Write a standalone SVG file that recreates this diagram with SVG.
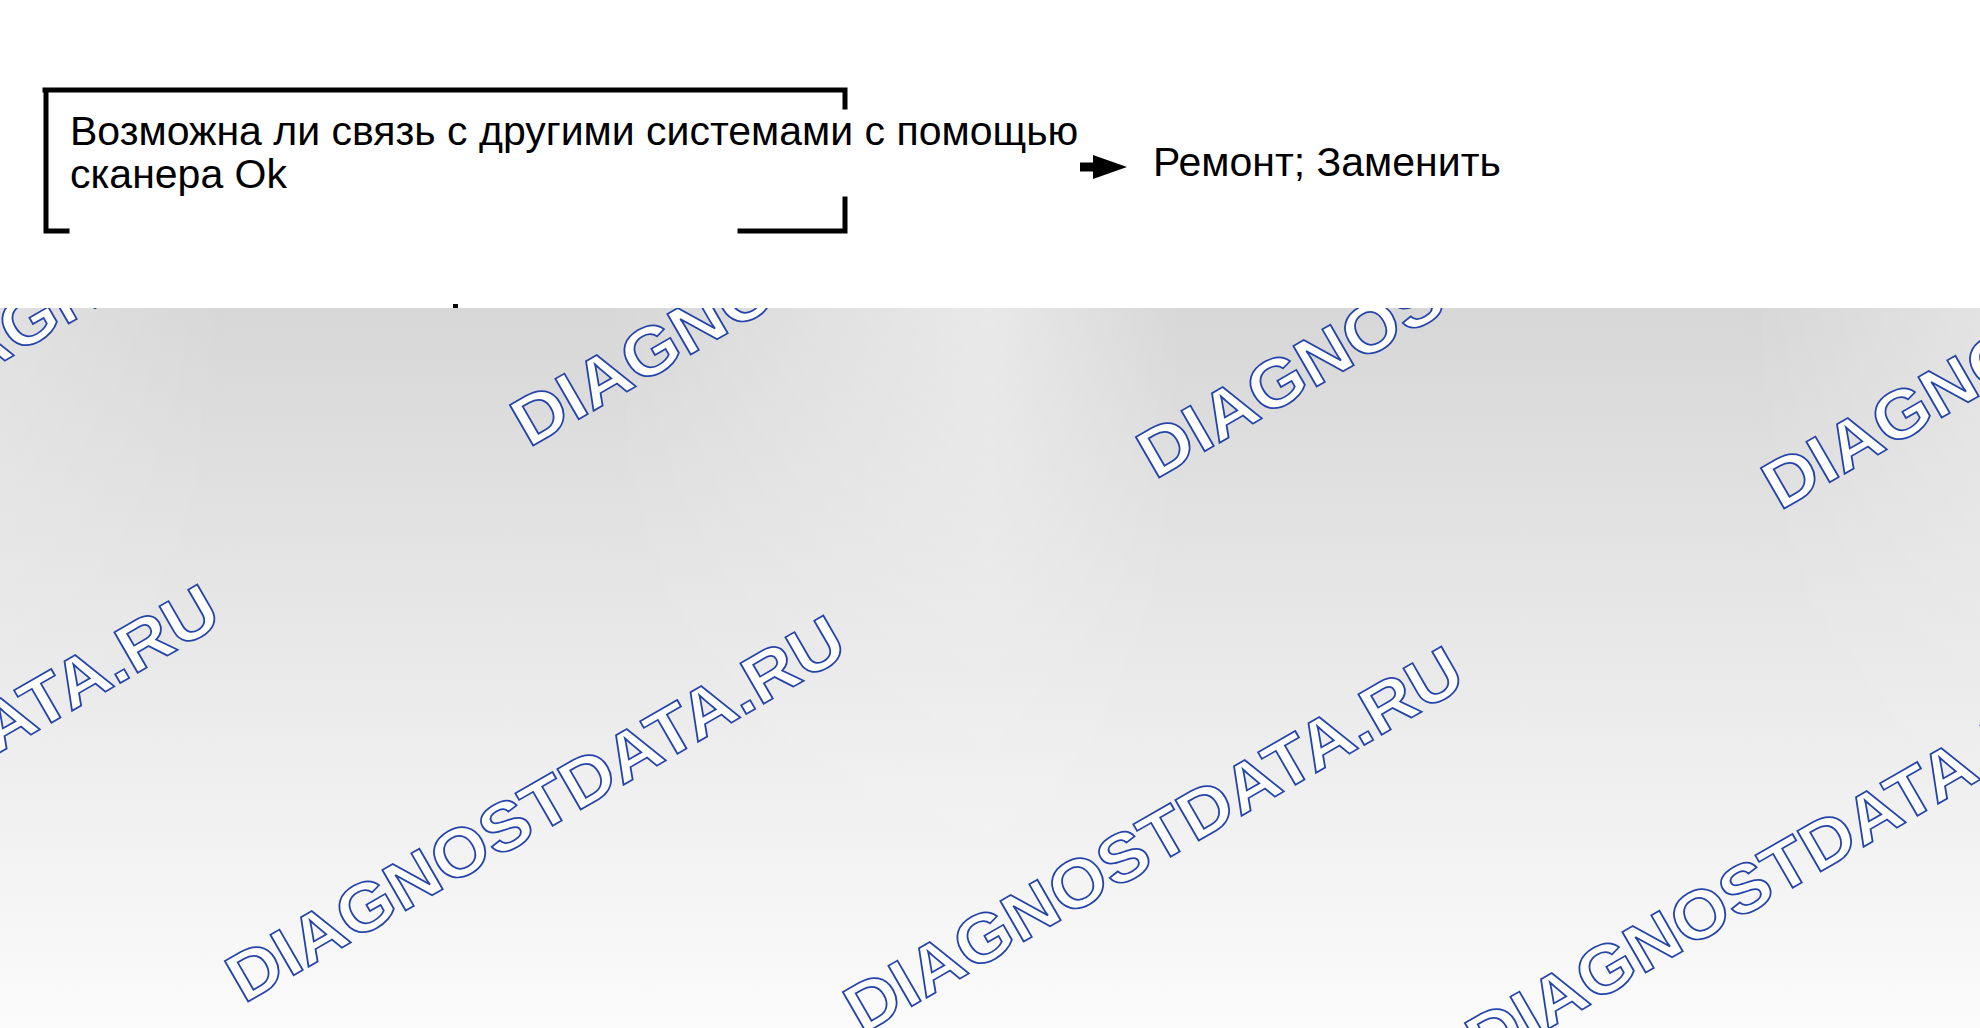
<svg xmlns="http://www.w3.org/2000/svg" width="1980" height="1028" viewBox="0 0 1980 1028">
<style>
.lbl{font-family:"Liberation Sans",Arial,sans-serif;font-size:41px;fill:#000}
.wm{font-family:"Liberation Sans",Arial,sans-serif;font-weight:bold;font-size:68px;fill:#fff;stroke:#2544a8;stroke-width:1.7px}
.frame{fill:none;stroke:#000;stroke-width:5;stroke-linecap:square}
.conn{fill:none;stroke:#000;stroke-width:9}
</style>
<defs>
<linearGradient id="bgv" x1="0" y1="308" x2="0" y2="1028" gradientUnits="userSpaceOnUse">
<stop offset="0" stop-color="#d7d7d8"/>
<stop offset="0.35" stop-color="#e4e4e5"/>
<stop offset="0.65" stop-color="#efeff0"/>
<stop offset="1" stop-color="#fbfbfc"/>
</linearGradient>
<linearGradient id="bgh" x1="0" y1="0" x2="1980" y2="0" gradientUnits="userSpaceOnUse">
<stop offset="0" stop-color="#fff" stop-opacity="0.25"/>
<stop offset="0.12" stop-color="#fff" stop-opacity="0"/>
<stop offset="0.3" stop-color="#fff" stop-opacity="0"/>
<stop offset="0.5" stop-color="#fff" stop-opacity="0.45"/>
<stop offset="0.6" stop-color="#fff" stop-opacity="0"/>
<stop offset="0.88" stop-color="#fff" stop-opacity="0"/>
<stop offset="1" stop-color="#fff" stop-opacity="0.3"/>
</linearGradient>
<linearGradient id="fade" x1="0" y1="308" x2="0" y2="1028" gradientUnits="userSpaceOnUse">
<stop offset="0" stop-color="#fff" stop-opacity="1"/>
<stop offset="0.5" stop-color="#fff" stop-opacity="0.3"/>
<stop offset="1" stop-color="#fff" stop-opacity="0"/>
</linearGradient>
<mask id="hmask"><rect x="0" y="308" width="1980" height="720" fill="url(#fade)"/></mask>
<clipPath id="gray"><rect x="0" y="308" width="1980" height="720"/></clipPath>
<marker id="head" markerUnits="userSpaceOnUse" markerWidth="36" markerHeight="26" refX="1" refY="12" orient="auto" viewBox="0 0 36 26">
<path d="M0,0 L34,12 L0,24 Z" fill="#000"/>
</marker>
</defs>
<rect x="0" y="0" width="1980" height="1028" fill="#fff"/>
<g id="background">
<rect x="0" y="308" width="1980" height="720" fill="url(#bgv)"/>
<rect x="0" y="308" width="1980" height="720" fill="url(#bgh)" mask="url(#hmask)"/>
</g>
<g id="watermarks" clip-path="url(#gray)">
<text class="wm" transform="translate(-93,417) rotate(-30) scale(1.07,1)">DIAGNOSTDATA.RU</text>
<text class="wm" transform="translate(529,448) rotate(-30) scale(1.07,1)">DIAGNOSTDATA.RU</text>
<text class="wm" transform="translate(1155,480) rotate(-30) scale(1.07,1)">DIAGNOSTDATA.RU</text>
<text class="wm" transform="translate(1780,511) rotate(-30) scale(1.07,1)">DIAGNOSTDATA.RU</text>
<text class="wm" transform="translate(-382,973) rotate(-30) scale(1.07,1)">DIAGNOSTDATA.RU</text>
<text class="wm" transform="translate(244,1004) rotate(-30) scale(1.07,1)">DIAGNOSTDATA.RU</text>
<text class="wm" transform="translate(862,1035) rotate(-30) scale(1.07,1)">DIAGNOSTDATA.RU</text>
<text class="wm" transform="translate(1484,1066) rotate(-30) scale(1.07,1)">DIAGNOSTDATA.RU</text>
</g>
<g id="question">
<path class="frame" d="M45,90 H845 M46,90 V231 M46,231 H67 M740,231 H845 M845,90 V107 M845,199 V231"/>
<text class="lbl" x="70" y="145">Возможна ли связь с другими системами с помощью</text>
<text class="lbl" x="70" y="188">сканера Ok</text>
</g>
<g id="connectors">
<path class="conn" d="M1080,167 H1094" marker-end="url(#head)"/>
</g>
<g id="result">
<text class="lbl" x="1153" y="176">Ремонт; Заменить</text>
</g>
<rect x="453" y="304" width="5" height="4" fill="#000"/>
</svg>
